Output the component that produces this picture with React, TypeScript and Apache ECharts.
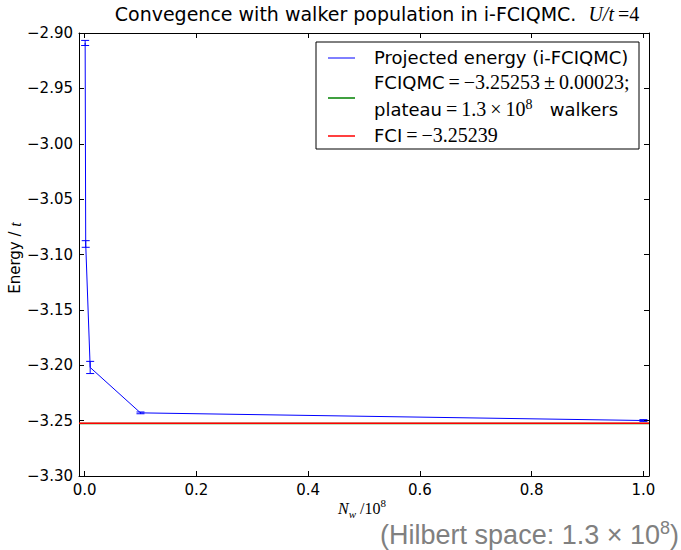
import React, { useEffect, useRef } from "react";
import * as echarts from "echarts";

// Data
const walkers = [0.001, 0.002, 0.01, 0.1, 1.0]; // N_w / 10^8
const energy = [-2.909, -3.0905, -3.202, -3.243, -3.2499];
const errors = [0.0023, 0.003, 0.0055, 0.0008, 0.0008];
const fciqmcEnergy = -3.25253;
const fciEnergy = -3.25239;
const xRange = [-0.01, 1.01];
const xTicks = [0, 0.2, 0.4, 0.6, 0.8, 1.0];
const yTicks = [-3.3, -3.25, -3.2, -3.15, -3.1, -3.05, -3.0, -2.95, -2.9];

const SANS = "DejaVu Sans";
const SERIF = "Liberation Serif";

export default function App() {
  const ref = useRef<HTMLDivElement>(null);
  useEffect(() => {
    if (!ref.current) return;
    const chart = echarts.init(ref.current, null, { renderer: "svg" });
    const minus = (s: string) => s.replace("-", "\u2212");
    const axisBase = (pos: string, showLabel: boolean, isX: boolean) => ({
      type: "value",
      position: pos,
      min: isX ? xRange[0] : yTicks[0],
      max: isX ? xRange[1] : yTicks[yTicks.length - 1],
      axisLine: { show: true, onZero: false, lineStyle: { color: "#000", width: 1 } },
      axisTick: {
        show: true,
        inside: true,
        length: 5,
        customValues: isX ? xTicks : yTicks,
        lineStyle: { color: "#000", width: 1 },
      },
      axisLabel: {
        show: showLabel,
        customValues: isX ? xTicks : yTicks,
        formatter: (v: number) => minus(isX ? v.toFixed(1) : v.toFixed(2)),
        color: "#000",
        fontSize: 15,
        fontFamily: SANS,
        margin: 6,
      },
      splitLine: { show: false },
    });

    const option: any = {
      animation: false,
      backgroundColor: "#fff",
      grid: { left: 79, right: 32, top: 33, bottom: 74, containLabel: false },
      xAxis: [axisBase("bottom", true, true), axisBase("top", false, true)],
      yAxis: [axisBase("left", true, false), axisBase("right", false, false)],
      series: [
        {
          type: "line",
          name: "Projected energy (i-FCIQMC)",
          data: walkers.map((x, i) => [x, energy[i]]),
          symbol: "none",
          lineStyle: { color: "#0000ff", width: 1 },
          clip: true,
          z: 2,
        },
        {
          type: "custom",
          name: "errors",
          data: walkers.map((x, i) => [x, energy[i] - errors[i], energy[i] + errors[i]]),
          clip: true,
          z: 2,
          renderItem: (params: any, api: any) => {
            const lo = api.coord([api.value(0), api.value(1)]);
            const hi = api.coord([api.value(0), api.value(2)]);
            const w = 4;
            const st = { stroke: "#0000ff", lineWidth: 1 };
            return {
              type: "group",
              children: [
                { type: "line", shape: { x1: lo[0], y1: lo[1], x2: hi[0], y2: hi[1] }, style: st },
                { type: "line", shape: { x1: lo[0] - w, y1: lo[1], x2: lo[0] + w, y2: lo[1] }, style: st },
                { type: "line", shape: { x1: hi[0] - w, y1: hi[1], x2: hi[0] + w, y2: hi[1] }, style: st },
              ],
            };
          },
        },
        {
          type: "line",
          name: "FCIQMC",
          data: [[xRange[0], fciqmcEnergy], [xRange[1], fciqmcEnergy]],
          symbol: "none",
          lineStyle: { color: "#008000", width: 1.5 },
          z: 3,
        },
        {
          type: "line",
          name: "FCI",
          data: [[xRange[0], fciEnergy], [xRange[1], fciEnergy]],
          symbol: "none",
          lineStyle: { color: "#ff0000", width: 1.5 },
          z: 4,
        },
      ],
      graphic: {
        elements: [
          // Title
          {
            type: "text",
            x: 377,
            y: 14,
            style: {
              text: "{s|Convegence with walker population in i-FCIQMC.  }{m|U/t}{n|\u2009=4}",
              align: "center",
              verticalAlign: "middle",
              rich: {
                s: { fontFamily: SANS, fontSize: 19, fill: "#000" },
                m: { fontFamily: SERIF, fontStyle: "italic", fontSize: 20, fill: "#000" },
                n: { fontFamily: SERIF, fontSize: 20, fill: "#000" },
              },
            },
          },
          // Y label
          {
            type: "text",
            x: 15,
            y: 258,
            rotation: Math.PI / 2,
            style: {
              text: "{s|Energy / }{m|t}",
              align: "center",
              verticalAlign: "middle",
              rich: {
                s: { fontFamily: SANS, fontSize: 15, fill: "#000" },
                m: { fontFamily: SERIF, fontStyle: "italic", fontSize: 16, fill: "#000" },
              },
            },
          },
          // X label
          {
            type: "text",
            x: 362,
            y: 508,
            style: {
              text: "{m|N}{sub|w}{n| /10}{sup|8}",
              align: "center",
              verticalAlign: "middle",
              rich: {
                m: { fontFamily: SERIF, fontStyle: "italic", fontSize: 16, fill: "#000" },
                sub: { fontFamily: SERIF, fontStyle: "italic", fontSize: 11, fill: "#000", verticalAlign: "bottom", lineHeight: 22 },
                n: { fontFamily: SERIF, fontSize: 16, fill: "#000" },
                sup: { fontFamily: SERIF, fontSize: 11, fill: "#000", verticalAlign: "top", lineHeight: 22 },
              },
            },
          },
          // Hilbert space note
          {
            type: "text",
            x: 679,
            y: 535,
            style: {
              text: "{s|(Hilbert space: 1.3 \u00d7 10}{sup|8}{s|)}",
              align: "right",
              verticalAlign: "middle",
              rich: {
                s: { fontFamily: "Liberation Sans", fontSize: 27, fill: "#808080" },
                sup: { fontFamily: "Liberation Sans", fontSize: 18, fill: "#808080", verticalAlign: "top", lineHeight: 33 },
              },
            },
          },
          // Legend box
          {
            type: "rect",
            shape: { x: 316, y: 42, width: 323, height: 107 },
            style: { fill: "#fff", stroke: "#000", lineWidth: 1 },
            z: 10,
          },
          { type: "line", shape: { x1: 328, y1: 58, x2: 355, y2: 58 }, style: { stroke: "#0000ff", lineWidth: 1 }, z: 11 },
          { type: "line", shape: { x1: 328, y1: 98, x2: 355, y2: 98 }, style: { stroke: "#008000", lineWidth: 1.5 }, z: 11 },
          { type: "line", shape: { x1: 328, y1: 136, x2: 355, y2: 136 }, style: { stroke: "#ff0000", lineWidth: 1.5 }, z: 11 },
          {
            type: "text",
            x: 374,
            y: 57,
            z: 11,
            style: { text: "Projected energy (i-FCIQMC)", fontFamily: SANS, fontSize: 18, fill: "#000", verticalAlign: "middle" },
          },
          {
            type: "text",
            x: 374,
            y: 82,
            z: 11,
            style: {
              text: "{s|FCIQMC}{m|\u2009=\u2009\u22123.25253\u2009\u00b1\u20090.00023;}",
              verticalAlign: "middle",
              rich: {
                s: { fontFamily: SANS, fontSize: 18, fill: "#000" },
                m: { fontFamily: SERIF, fontSize: 20, fill: "#000" },
              },
            },
          },
          {
            type: "text",
            x: 374,
            y: 109,
            z: 11,
            style: {
              text: "{s|plateau}{m|\u2009=\u20091.3\u2009\u00d7\u200910}{sup|8}{s|   walkers}",
              verticalAlign: "middle",
              rich: {
                s: { fontFamily: SANS, fontSize: 18, fill: "#000" },
                m: { fontFamily: SERIF, fontSize: 20, fill: "#000" },
                sup: { fontFamily: SERIF, fontSize: 14, fill: "#000", verticalAlign: "top", lineHeight: 24 },
              },
            },
          },
          {
            type: "text",
            x: 374,
            y: 135,
            z: 11,
            style: {
              text: "{s|FCI}{m|\u2009=\u2009\u22123.25239}",
              verticalAlign: "middle",
              rich: {
                s: { fontFamily: SANS, fontSize: 18, fill: "#000" },
                m: { fontFamily: SERIF, fontSize: 20, fill: "#000" },
              },
            },
          },
        ],
      },
    };
    chart.setOption(option);
    return () => chart.dispose();
  }, []);
  return (
    <div
      ref={ref}
      style={{ position: "fixed", left: 0, top: 0, width: 681, height: 550 }}
    />
  );
}
